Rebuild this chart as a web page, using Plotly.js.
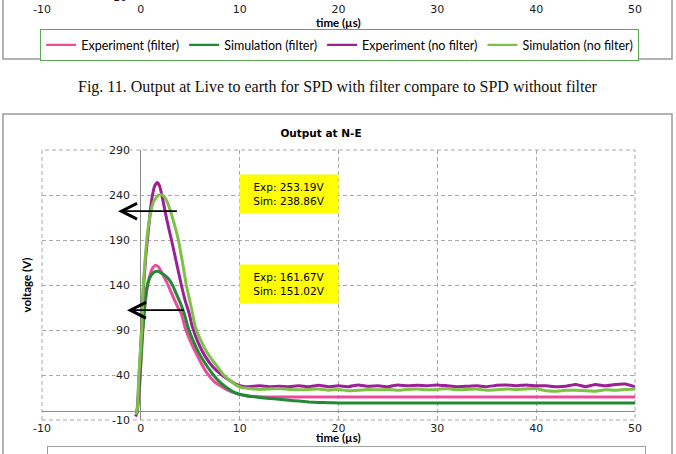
<!DOCTYPE html>
<html>
<head>
<meta charset="utf-8">
<script src="https://cdn.plot.ly/plotly-3.0.1.min.js"></script>
<style>
html,body{margin:0;padding:0;background:#fff;overflow:hidden;}
#chart{width:676px;height:454px;}
</style>
</head>
<body>
<div id="chart"></div>
<script>
// ---- data ----
const seriesNames = ['Experiment (filter)', 'Simulation (filter)', 'Experiment (no filter)', 'Simulation (no filter)'];

const expFilterT = [-0.35,-0.1,0.1,0.3,0.5,0.7,0.95,1.2,1.5,1.8,2.1,2.4,2.75,3.3,3.8,4.1,4.5,5.0,5.6,6.2,6.7,7.4,8.2,9.0,9.8,10.6,11.5,12.5,15,20,25,30,35,40,45,50];
const expFilterV = [-2,30,75,105,125,140,152,159,162,160,154,148,140,126,114,108,92,78,64,51,42,33,27,22,19,17,16,15.5,15.5,15.5,15.5,15.5,15.5,15.5,15.5,15.5];

const simFilterT = [-0.4,-0.2,0,0.2,0.4,0.6,0.9,1.2,1.5,1.8,2.1,2.4,2.8,3.2,3.6,4.0,4.4,4.8,5.3,5.9,6.5,7.2,8.0,8.8,9.5,10.2,11,12,13,14,15,16,17,18,19,20,22,25,30,35,40,45,50];
const simFilterV = [-3,20,55,90,118,137,148,153,155,155,153,151,147,140,130,120,108,92,78,64,53,42,32,25,20.5,18,16.5,15,14,13,12,11,10,9.5,9.2,9,9,9,9,9,9,9,9];

const expNoFilterT = [-0.6,-0.45,-0.3,-0.15,0.05,0.25,0.5,0.8,1.1,1.4,1.65,1.9,2.2,2.6,3.1,3.6,4.1,4.5,4.9,5.2,5.8,6.5,7.3,8.2,9.0,9.8,10.5,
  11,12,13,14,15,16,17,18,19,20,21,22,23,24,25,26,27,28,29,30,31,32,33,34,35,36,37,38,39,40,41,42,43,44,45,46,47,48,49,50];
const expNoFilterV = [-4,-5,12,42,85,135,172,205,235,250,254,250,236,214,190,165,140,122,108,94,76,61,49,40,34,29,27,
  27,28,27,27.5,27,28,27,28.5,27,28,27,29,27.5,28,27,29,28,28.5,28,29,28,27,27.5,28,27,28.5,29,28,29,28,28,27,27.5,29.5,27,29.5,28,29.5,30,27];

const simNoFilterT = [-0.5,-0.35,-0.2,0.1,0.25,0.6,0.9,1.3,1.8,2.2,2.6,3.0,3.4,3.8,4.2,4.6,4.9,5.2,5.5,6.0,6.6,7.2,7.7,8.3,9.0,9.6,10.2,
  11,12,13,14,15,16,17,18,19,20,21,22,23,24,25,26,27,28,29,30,31,32,33,34,35,36,37,38,39,40,41,42,43,44,45,46,47,48,49,50];
const simNoFilterV = [-4,2,40,90,140,190,215,233,240,240,234,222,207,190,166,140,125,110,94,80,67,57,50,41,34,29,26,
  25,24,24.5,25,24,23.5,24,24.5,23,24,22.5,23,24,23.5,24,23,24,24.5,23.5,24,25,23.5,24,24.5,23,23.5,24.5,24,24.5,25,22.5,22,23,23,22.5,22,23.5,23,24,24.5];

const xTicks = [-10,0,10,20,30,40,50];
const yTicks = [290,240,190,140,90,40,-10];
const peakLabels = ['Exp: 253.19V<br>Sim: 238.86V', 'Exp: 161.67V<br>Sim: 151.02V'];
const chartTitle = 'Output at N-E';
const xTitle = 'time (µs)';
const yTitle = 'voltage (V)';
const caption = 'Fig. 11. Output at Live to earth for SPD with filter compare to SPD without filter';

// ---- styles ----
const colors = ['#ec4b9d', '#1f8b34', '#9c1f98', '#7cc244'];
const W = 676, H = 454;
const px = v => v / W;            // pixel x -> paper
const py = v => 1 - v / H;        // pixel y -> paper
const tickFont = {family: 'DejaVu Sans', size: 11, color: '#1a1a1a'};
const boldFont = {family: 'Lato', size: 11.5, color: '#000', weight: 'bold'};
const legFont = {family: 'Lato', size: 12.5, color: '#000'};
const gridCol = '#a8a8a8';
const gridDash = '4px,3px';

const xDomain = [px(42), px(635)];

const series = [
  {x: expFilterT, y: expFilterV},
  {x: simFilterT, y: simFilterV},
  {x: expNoFilterT, y: expNoFilterV},
  {x: simNoFilterT, y: simNoFilterV}
];

const data = series.map((d, i) => ({
  type: 'scatter', mode: 'lines', x: d.x, y: d.y, name: seriesNames[i],
  line: {color: colors[i], width: 3, shape: 'spline', smoothing: 0.4},
  xaxis: 'x', yaxis: 'y', legend: 'legend2', hoverinfo: 'skip'
}));

// upper (cut-off) figure: its curves lie outside the visible strip, only its legend shows
series.forEach((d, i) => data.push({
  type: 'scatter', mode: 'lines', x: d.x, y: d.y, name: seriesNames[i],
  line: {color: colors[i], width: 2.2}, xaxis: 'x2', yaxis: 'y2', legend: 'legend', hoverinfo: 'skip'
}));

const annotations = [];
// y tick labels sitting on the y axis (x = 0) with white background
yTicks.forEach(v => annotations.push({
  xref: 'x', yref: 'y', x: 0, y: v, text: String(v), showarrow: false,
  xanchor: 'right', yanchor: 'middle', xshift: -10, bgcolor: '#ffffff', borderpad: 0,
  font: tickFont
}));
// cut-off y tick label of upper chart
annotations.push({xref: 'x2', yref: 'paper', x: 0, y: py(-2), text: '-10', showarrow: false,
  xanchor: 'right', yanchor: 'middle', xshift: -12, font: tickFont});
// axis titles
annotations.push({xref: 'x2 domain', yref: 'paper', x: 0.5, y: py(23), text: xTitle, showarrow: false,
  xanchor: 'center', yanchor: 'middle', font: boldFont});
annotations.push({xref: 'x domain', yref: 'paper', x: 0.5, y: py(437), text: xTitle, showarrow: false,
  xanchor: 'center', yanchor: 'middle', font: boldFont});
// caption
annotations.push({xref: 'paper', yref: 'paper', x: px(338), y: py(87), text: caption, showarrow: false,
  xanchor: 'center', yanchor: 'middle', font: {family: 'Liberation Serif', size: 16, color: '#111'}});
// yellow value boxes
[[15, 241], [15, 141]].forEach((p, i) => annotations.push({
  xref: 'x', yref: 'y', x: p[0], y: p[1], text: peakLabels[i], showarrow: false,
  width: 98, height: 38, bgcolor: '#ffff00', borderpad: 0, align: 'center',
  font: {family: 'DejaVu Sans', size: 10.5, color: '#000'}
}));
// arrows
[[-2.3, 3.8, 222], [-1.4, 4.5, 112]].forEach(a => annotations.push({
  xref: 'x', yref: 'y', x: a[0], y: a[2], axref: 'x', ayref: 'y', ax: a[1], ay: a[2],
  text: '', showarrow: true, arrowhead: 5, arrowsize: 1.7, arrowwidth: 1.8, arrowcolor: '#000'
}));

const shapes = [
  // frame of upper figure
  {type: 'rect', xref: 'paper', yref: 'paper', x0: px(3), x1: px(672), y0: py(59), y1: py(-10),
   line: {color: '#9a9a9a', width: 1.5}, layer: 'below'},
  // frame of lower figure
  {type: 'rect', xref: 'paper', yref: 'paper', x0: px(3), x1: px(672), y0: py(470), y1: py(114),
   line: {color: '#9a9a9a', width: 1.5}, layer: 'below'},
  // dashed border of the plot area
  {type: 'rect', xref: 'x domain', yref: 'y domain', x0: 0, x1: 1, y0: 0, y1: 1,
   line: {color: gridCol, width: 1, dash: gridDash}, layer: 'below'}
];

const layout = {
  width: W, height: H,
  margin: {l: 0, r: 0, t: 0, b: 0, autoexpand: false},
  paper_bgcolor: '#ffffff', plot_bgcolor: 'rgba(0,0,0,0)',
  title: {text: chartTitle, x: px(321), xanchor: 'center', xref: 'paper', y: py(133), yref: 'paper', yanchor: 'middle',
    font: {family: 'DejaVu Sans', size: 10.5, color: '#000', weight: 'bold'}},
  xaxis: {domain: xDomain, range: [-10, 50], tickvals: xTicks, ticktext: xTicks.map(String),
    showgrid: true, gridcolor: gridCol, griddash: gridDash, gridwidth: 1,
    zeroline: true, zerolinecolor: '#8c8c8c', zerolinewidth: 1, showline: false, ticks: '',
    tickfont: tickFont, anchor: 'y', fixedrange: true},
  yaxis: {domain: [py(420), py(150)], range: [-10, 290], tickvals: yTicks,
    showgrid: true, gridcolor: gridCol, griddash: gridDash, gridwidth: 1,
    zeroline: true, zerolinecolor: '#8c8c8c', zerolinewidth: 1, showline: false, ticks: '',
    showticklabels: false, anchor: 'x', fixedrange: true,
    title: {text: yTitle, font: boldFont, standoff: 6}},
  xaxis2: {domain: xDomain, range: [-10, 50], tickvals: xTicks, ticktext: xTicks.map(String),
    showgrid: false, zeroline: false, showline: false, ticks: '', tickfont: tickFont, anchor: 'y2', fixedrange: true},
  yaxis2: {domain: [py(1), 1], range: [1000, 1001], visible: false, anchor: 'x2', fixedrange: true},
  showlegend: true,
  legend: {orientation: 'h', x: px(40), xanchor: 'left', y: py(29), yanchor: 'top',
    bgcolor: '#ffffff', bordercolor: '#5aaa52', borderwidth: 1.2, font: legFont, traceorder: 'normal'},
  legend2: {orientation: 'h', x: px(47), xanchor: 'left', y: py(446), yanchor: 'top',
    bgcolor: '#ffffff', bordercolor: '#a0a0a0', borderwidth: 1.2, font: legFont, traceorder: 'normal'},
  annotations: annotations,
  shapes: shapes
};

Plotly.newPlot('chart', data, layout, {displayModeBar: false, staticPlot: true});
</script>
</body>
</html>
